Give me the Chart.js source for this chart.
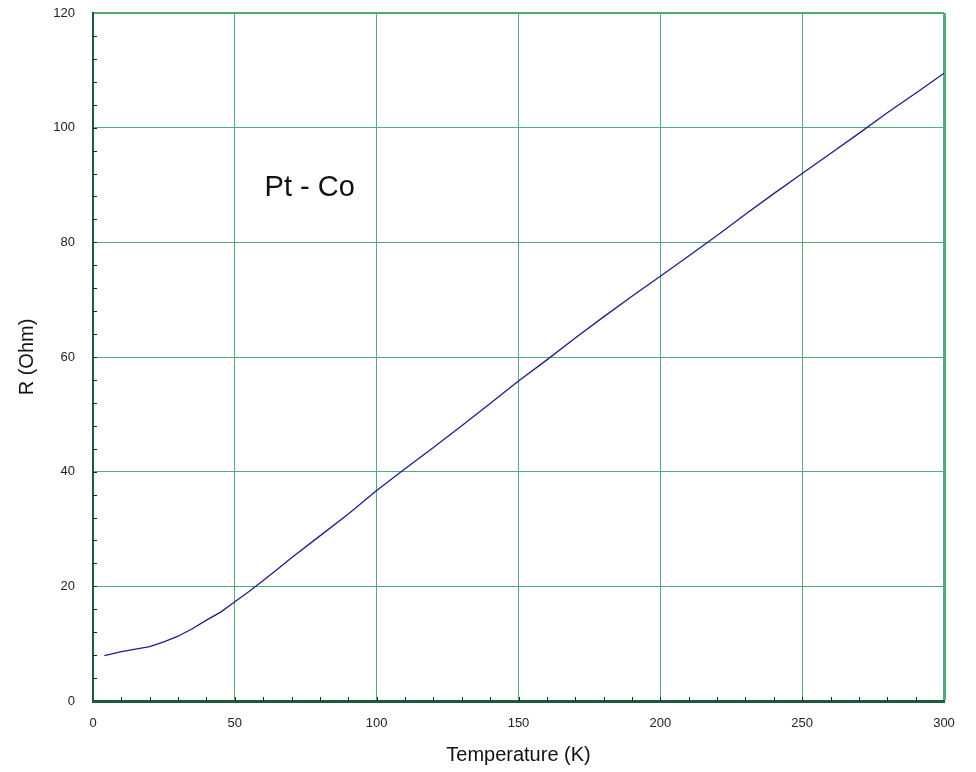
<!DOCTYPE html>
<html>
<head>
<meta charset="utf-8">
<script src="https://cdn.jsdelivr.net/npm/chart.js@4/dist/chart.umd.min.js"></script>
<style>
  html, body { margin: 0; padding: 0; background: #fff; }
  #wrap { width: 976px; height: 772px; }
</style>
</head>
<body>
<div id="wrap"><canvas id="rtChart" width="976" height="772"></canvas></div>
<script>
// temperature (K) and resistance (Ohm)
const temps = [4, 10, 20, 25, 30, 35, 40, 45, 50, 55, 60, 65, 70, 80, 90, 100, 110, 120, 130, 140,
  150, 160, 170, 180, 190, 200, 210, 220, 230, 240, 250, 260, 270, 280, 290, 300]
const resist = [7.9, 8.6, 9.5, 10.3, 11.3, 12.6, 14.1, 15.5, 17.3, 19.1, 21.0, 23.0, 25.0, 28.8, 32.6, 36.7, 40.5, 44.2, 48.0, 51.9,
  55.8, 59.5, 63.3, 67.0, 70.6, 74.1, 77.6, 81.2, 84.9, 88.5, 92.0, 95.5, 99.0, 102.6, 106.0, 109.5]

const xTitle = 'Temperature (K)'
const yTitle = 'R (Ohm)'
const sampleName = 'Pt - Co'

const FONT = 'Liberation Sans, Arial, sans-serif'
const GRID = 'rgb(80,172,122)'
const AXIS = '#1c5a3b'

const points = temps.map((t, i) => ({ x: t, y: resist[i] }))

// small inward ticks + sample label
const extras = {
  id: 'extras',
  afterDatasetsDraw(chart) {
    const { ctx, chartArea: a, scales: { x, y } } = chart
    ctx.save()
    ctx.strokeStyle = '#222'
    ctx.lineWidth = 1
    ctx.beginPath()
    for (let v = 10; v < 300; v += 10) {
      const px = Math.round(x.getPixelForValue(v)) + 0.5
      ctx.moveTo(px, a.bottom)
      ctx.lineTo(px, a.bottom - 4)
    }
    for (let v = 4; v < 120; v += 4) {
      const py = Math.round(y.getPixelForValue(v)) + 0.5
      ctx.moveTo(a.left, py)
      ctx.lineTo(a.left + 4, py)
    }
    ctx.stroke()

    ctx.fillStyle = '#111'
    ctx.font = '29px ' + FONT
    ctx.textAlign = 'left'
    ctx.textBaseline = 'alphabetic'
    ctx.fillText(sampleName, x.getPixelForValue(60.5), y.getPixelForValue(88))
    ctx.restore()
  }
}

const config = {
  type: 'line',
  data: {
    datasets: [{
      data: points,
      borderColor: '#1d1d8a',
      borderWidth: 1.3,
      pointRadius: 0,
      tension: 0,
      fill: false
    }]
  },
  options: {
    responsive: false,
    animation: false,
    layout: { padding: { left: 0, top: 13, right: 32, bottom: 0 } },
    plugins: { legend: { display: false }, tooltip: { enabled: false } },
    scales: {
      x: {
        type: 'linear',
        min: 0,
        max: 300,
        afterFit: s => { s.height = 71 },
        border: { color: AXIS, width: 3 },
        grid: {
          drawTicks: false,
          color: ctx => ctx.tick && ctx.tick.value === 0 ? 'rgba(0,0,0,0)' : GRID,
          lineWidth: ctx => ctx.tick && ctx.tick.value === 300 ? 3 : 1
        },
        ticks: { stepSize: 50, padding: 15, color: '#222', font: { family: FONT, size: 13 } },
        title: { display: true, text: xTitle, color: '#111', padding: { top: 0, bottom: 5 }, font: { family: FONT, size: 20 } }
      },
      y: {
        min: 0,
        max: 120,
        afterFit: s => { s.width = 93; s.paddingTop = 0; s.paddingBottom = 0 },
        border: { color: AXIS, width: 2 },
        grid: {
          drawTicks: false,
          color: ctx => ctx.tick && ctx.tick.value === 0 ? 'rgba(0,0,0,0)' : GRID,
          lineWidth: ctx => ctx.tick && ctx.tick.value === 120 ? 2 : 1
        },
        ticks: { stepSize: 20, padding: 18, color: '#222', font: { family: FONT, size: 13 } },
        title: { display: true, text: yTitle, color: '#111', padding: { top: 15, bottom: 0 }, font: { family: FONT, size: 20 } }
      }
    }
  },
  plugins: [extras]
}

const canvas = document.getElementById('rtChart')
const chart = new Chart(canvas, config)
</script>
</body>
</html>
